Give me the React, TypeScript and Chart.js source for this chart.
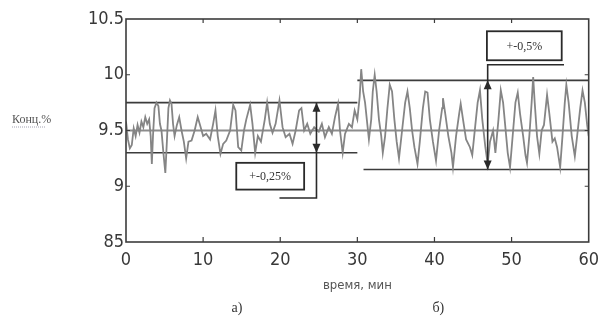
import React, { useEffect, useRef } from "react";
import { Chart, registerables } from "chart.js";
Chart.register(...registerables);

// ---- data (time in min, concentration in %) ----
const timeA = [0, 0.25, 0.5, 0.75, 1.0, 1.25, 1.5, 1.75, 2.0, 2.25, 2.5, 2.75, 3.0, 3.2, 3.35, 3.5, 3.7, 3.95, 4.2, 4.4, 4.6, 4.85, 5.1, 5.3, 5.5, 5.7, 5.9, 6.1, 6.3, 6.6, 6.9, 7.2, 7.5, 7.8, 8.1, 8.5, 8.9, 9.3, 9.6, 10.0, 10.4, 10.9, 11.3, 11.6, 11.9, 12.25, 12.6, 13.0, 13.5, 13.9, 14.2, 14.55, 14.95, 15.3, 15.6, 16.1, 16.4, 16.75, 17.1, 17.5, 18.0, 18.3, 18.65, 19.0, 19.4, 19.9, 20.3, 20.7, 21.2, 21.6, 22.0, 22.45, 22.75, 23.1, 23.5, 23.9, 24.4, 25.0, 25.4, 25.8, 26.3, 26.7, 27.1, 27.5, 27.75, 28.1, 28.4, 28.9, 29.3, 29.65, 30.0];
const concA = [9.58, 9.42, 9.34, 9.37, 9.52, 9.45, 9.55, 9.48, 9.58, 9.53, 9.62, 9.56, 9.6, 9.45, 9.2, 9.45, 9.7, 9.75, 9.72, 9.56, 9.5, 9.3, 9.12, 9.4, 9.7, 9.77, 9.74, 9.56, 9.45, 9.55, 9.62, 9.5, 9.4, 9.25, 9.4, 9.41, 9.5, 9.62, 9.55, 9.45, 9.47, 9.42, 9.56, 9.68, 9.45, 9.29, 9.38, 9.41, 9.5, 9.73, 9.68, 9.35, 9.32, 9.5, 9.6, 9.73, 9.56, 9.3, 9.45, 9.4, 9.6, 9.75, 9.56, 9.48, 9.56, 9.77, 9.53, 9.44, 9.47, 9.38, 9.5, 9.68, 9.7, 9.5, 9.56, 9.47, 9.53, 9.49, 9.56, 9.44, 9.53, 9.47, 9.62, 9.74, 9.5, 9.3, 9.47, 9.56, 9.53, 9.68, 9.6];

const timeB = [30.0, 30.3, 30.5, 30.75, 31.0, 31.3, 31.5, 31.8, 32.0, 32.25, 32.5, 32.8, 33.1, 33.3, 33.6, 33.9, 34.2, 34.5, 34.8, 35.1, 35.4, 35.8, 36.2, 36.5, 36.8, 37.1, 37.4, 37.8, 38.1, 38.5, 38.8, 39.1, 39.4, 39.8, 40.2, 40.6, 41.0, 41.1, 41.4, 41.8, 42.2, 42.4, 42.8, 43.2, 43.4, 43.7, 44.1, 44.6, 44.9, 45.3, 45.6, 45.9, 46.2, 46.6, 46.9, 47.2, 47.6, 47.9, 48.3, 48.6, 48.9, 49.3, 49.5, 49.8, 50.2, 50.5, 50.8, 51.1, 51.5, 51.8, 52.0, 52.3, 52.6, 52.8, 53.0, 53.3, 53.6, 53.9, 54.2, 54.6, 54.9, 55.3, 55.6, 55.9, 56.3, 56.6, 56.9, 57.1, 57.4, 57.8, 58.2, 58.5, 58.9, 59.2, 59.5, 59.8, 60.0];
const concB = [9.6, 9.8, 10.05, 9.85, 9.75, 9.55, 9.42, 9.6, 9.85, 10.0, 9.85, 9.6, 9.45, 9.3, 9.45, 9.7, 9.91, 9.85, 9.6, 9.4, 9.25, 9.5, 9.75, 9.85, 9.7, 9.5, 9.35, 9.2, 9.4, 9.7, 9.85, 9.84, 9.6, 9.4, 9.23, 9.5, 9.7, 9.79, 9.65, 9.45, 9.3, 9.17, 9.45, 9.65, 9.74, 9.6, 9.42, 9.35, 9.28, 9.55, 9.75, 9.86, 9.6, 9.35, 9.2, 9.4, 9.5, 9.3, 9.6, 9.86, 9.75, 9.45, 9.3, 9.17, 9.5, 9.75, 9.84, 9.65, 9.45, 9.28, 9.21, 9.45, 9.75, 9.98, 9.75, 9.45, 9.29, 9.5, 9.55, 9.82, 9.65, 9.4, 9.43, 9.35, 9.17, 9.45, 9.75, 9.91, 9.75, 9.45, 9.27, 9.45, 9.7, 9.86, 9.75, 9.55, 9.45];

const xTickValues = [0, 10, 20, 30, 40, 50, 60];
const yTickValues = [8.5, 9, 9.5, 10, 10.5];
const yTickLabels = ["85", "9", "9.5", "10", "10.5"];

const centerLevel = 9.5;
const bandA = [9.75, 9.3]; // ±0.25 %
const bandB = [9.95, 9.15]; // ±0.5 %
const labelA = "+-0,25%";
const labelB = "+-0,5%";
const yTitle = "Конц.%";
const xTitle = "время, мин";
const partA = "а)";
const partB = "б)";

const LINE = "#3c3c3c";
const TRACE = "#858585";

function hline(x0: number, x1: number, y: number) {
  return [{ x: x0, y }, { x: x1, y }];
}

const annotationPlugin = {
  id: "sketchAnnotations",
  afterDatasetsDraw(chart: any) {
    const { ctx, chartArea: ca, scales } = chart;
    const xs = scales.x;
    const ys = scales.y;
    const px = (v: number) => xs.getPixelForValue(v);
    const py = (v: number) => ys.getPixelForValue(v);
    ctx.save();

    // frame
    ctx.strokeStyle = LINE;
    ctx.lineWidth = 1.6;
    ctx.strokeRect(ca.left, ca.top, ca.right - ca.left, ca.bottom - ca.top);

    // inside ticks
    ctx.lineWidth = 1.2;
    ctx.beginPath();
    xTickValues.slice(1, -1).forEach((t) => {
      const x = px(t);
      ctx.moveTo(x, ca.bottom);
      ctx.lineTo(x, ca.bottom - 5);
      ctx.moveTo(x, ca.top);
      ctx.lineTo(x, ca.top + 4);
    });
    [9, 9.5, 10].forEach((v) => {
      const y = py(v);
      ctx.moveTo(ca.left, y);
      ctx.lineTo(ca.left + 4, y);
      ctx.moveTo(ca.right, y);
      ctx.lineTo(ca.right - 4, y);
    });
    ctx.stroke();

    const arrowHead = (x: number, y: number, dir: number) => {
      ctx.beginPath();
      ctx.moveTo(x, y);
      ctx.lineTo(x - 4, y - dir * 9);
      ctx.lineTo(x + 4, y - dir * 9);
      ctx.closePath();
      ctx.fill();
    };

    ctx.fillStyle = "#2a2a2a";
    ctx.strokeStyle = "#2a2a2a";
    ctx.lineWidth = 1.6;

    // left annotation: arrow + connector + box
    {
      const ax = px(24.7);
      const yc = py(8.895);
      ctx.beginPath();
      ctx.moveTo(ax, py(bandA[0]));
      ctx.lineTo(ax, yc);
      ctx.lineTo(px(19.9), yc);
      ctx.stroke();
      arrowHead(ax, py(bandA[0]), -1);
      arrowHead(ax, py(bandA[1]), 1);
      const bx0 = px(14.3), bx1 = px(23.1), by0 = py(9.21), by1 = py(8.97);
      ctx.lineWidth = 1.8;
      ctx.strokeRect(bx0, by0, bx1 - bx0, by1 - by0);
      ctx.font = "12px 'Liberation Serif', 'DejaVu Serif', serif";
      ctx.textAlign = "center";
      ctx.textBaseline = "middle";
      ctx.fillStyle = "#333";
      ctx.fillText(labelA, (bx0 + bx1) / 2, (by0 + by1) / 2 + 1);
    }

    // right annotation
    {
      ctx.fillStyle = "#2a2a2a";
      ctx.lineWidth = 1.6;
      const ax = px(46.9);
      const yc = py(10.09);
      ctx.beginPath();
      ctx.moveTo(px(56.8), yc);
      ctx.lineTo(ax, yc);
      ctx.lineTo(ax, py(bandB[1]));
      ctx.stroke();
      arrowHead(ax, py(bandB[0]), -1);
      arrowHead(ax, py(bandB[1]), 1);
      const bx0 = px(46.8), bx1 = px(56.5), by0 = py(10.39), by1 = py(10.13);
      ctx.lineWidth = 1.8;
      ctx.strokeRect(bx0, by0, bx1 - bx0, by1 - by0);
      ctx.font = "12px 'Liberation Serif', 'DejaVu Serif', serif";
      ctx.textAlign = "center";
      ctx.textBaseline = "middle";
      ctx.fillStyle = "#333";
      ctx.fillText(labelB, (bx0 + bx1) / 2, (by0 + by1) / 2 + 1);
    }

    // titles
    ctx.fillStyle = "#555";
    ctx.textAlign = "left";
    ctx.textBaseline = "middle";
    ctx.font = "12px 'Liberation Serif', serif";
    ctx.fillText(yTitle, 12, 120);
    ctx.strokeStyle = "#8a8aa0";
    ctx.lineWidth = 0.8;
    ctx.setLineDash([1, 1]);
    ctx.beginPath();
    ctx.moveTo(12, 127);
    ctx.lineTo(46, 127);
    ctx.stroke();
    ctx.setLineDash([]);

    ctx.textAlign = "center";
    ctx.fillStyle = "#555";
    ctx.font = "13px 'Liberation Sans Narrow', 'DejaVu Sans Condensed', sans-serif";
    ctx.fillText(xTitle, px(30.0), 286);
    ctx.fillStyle = "#333";
    ctx.font = "14px 'Liberation Serif', serif";
    ctx.fillText(partA, px(14.4), 308);
    ctx.fillText(partB, px(40.5), 308);

    ctx.restore();
  },
};

export default function App() {
  const ref = useRef<HTMLCanvasElement | null>(null);

  useEffect(() => {
    if (!ref.current) return;
    const tickFont = { family: "'Liberation Sans Narrow', 'DejaVu Sans Condensed', Arial, sans-serif", size: 18 };
    const chart = new Chart(ref.current, {
      type: "line",
      data: {
        datasets: [
          {
            data: [
              ...timeA.map((t, i) => ({ x: t, y: concA[i] })),
              ...timeB.slice(1).map((t, i) => ({ x: t, y: concB[i + 1] })),
            ],
            borderColor: TRACE,
            borderWidth: 1.8,
            pointRadius: 0,
            tension: 0,
            order: 0,
          },
          { data: hline(0, 60, centerLevel), borderColor: "#8c8c8c", borderWidth: 2.2, pointRadius: 0, order: 2 },
          { data: hline(0, 30, bandA[0]), borderColor: LINE, borderWidth: 1.6, pointRadius: 0, order: 1 },
          { data: hline(0, 30, bandA[1]), borderColor: LINE, borderWidth: 1.6, pointRadius: 0, order: 1 },
          { data: hline(30, 60.4, bandB[0]), borderColor: LINE, borderWidth: 1.6, pointRadius: 0, order: 1 },
          { data: hline(30.8, 60.4, bandB[1]), borderColor: LINE, borderWidth: 1.6, pointRadius: 0, order: 1 },
        ],
      },
      options: {
        animation: false,
        responsive: false,
        maintainAspectRatio: false,
        layout: { padding: { top: 19, right: 12, left: 0, bottom: 0 } },
        plugins: { legend: { display: false }, tooltip: { enabled: false } },
        scales: {
          x: {
            type: "linear",
            min: 0,
            max: 60,
            afterBuildTicks: (s: any) => {
              s.ticks = xTickValues.map((v) => ({ value: v }));
            },
            afterFit: (s: any) => {
              s.height = 79;
            },
            grid: { display: false, drawTicks: false },
            border: { display: false },
            ticks: { font: tickFont, color: "#383838", padding: 8, maxRotation: 0, autoSkip: false },
          },
          y: {
            type: "linear",
            min: 8.5,
            max: 10.5,
            afterBuildTicks: (s: any) => {
              s.ticks = yTickValues.map((v) => ({ value: v }));
            },
            afterFit: (s: any) => {
              s.width = 126;
            },
            grid: { display: false, drawTicks: false },
            border: { display: false },
            ticks: {
              font: tickFont,
              color: "#383838",
              padding: 2,
              autoSkip: false,
              callback: (v: any) => {
                const i = yTickValues.indexOf(Number(v));
                return i >= 0 ? yTickLabels[i] : "";
              },
            },
          },
        },
      },
      plugins: [annotationPlugin],
    } as any);
    return () => chart.destroy();
  }, []);

  return (
    <div style={{ position: "fixed", left: 0, top: 0, width: 607, height: 321, background: "#fff" }}>
      <canvas ref={ref} width={607} height={321} style={{ width: 607, height: 321, display: "block" }} />
    </div>
  );
}
